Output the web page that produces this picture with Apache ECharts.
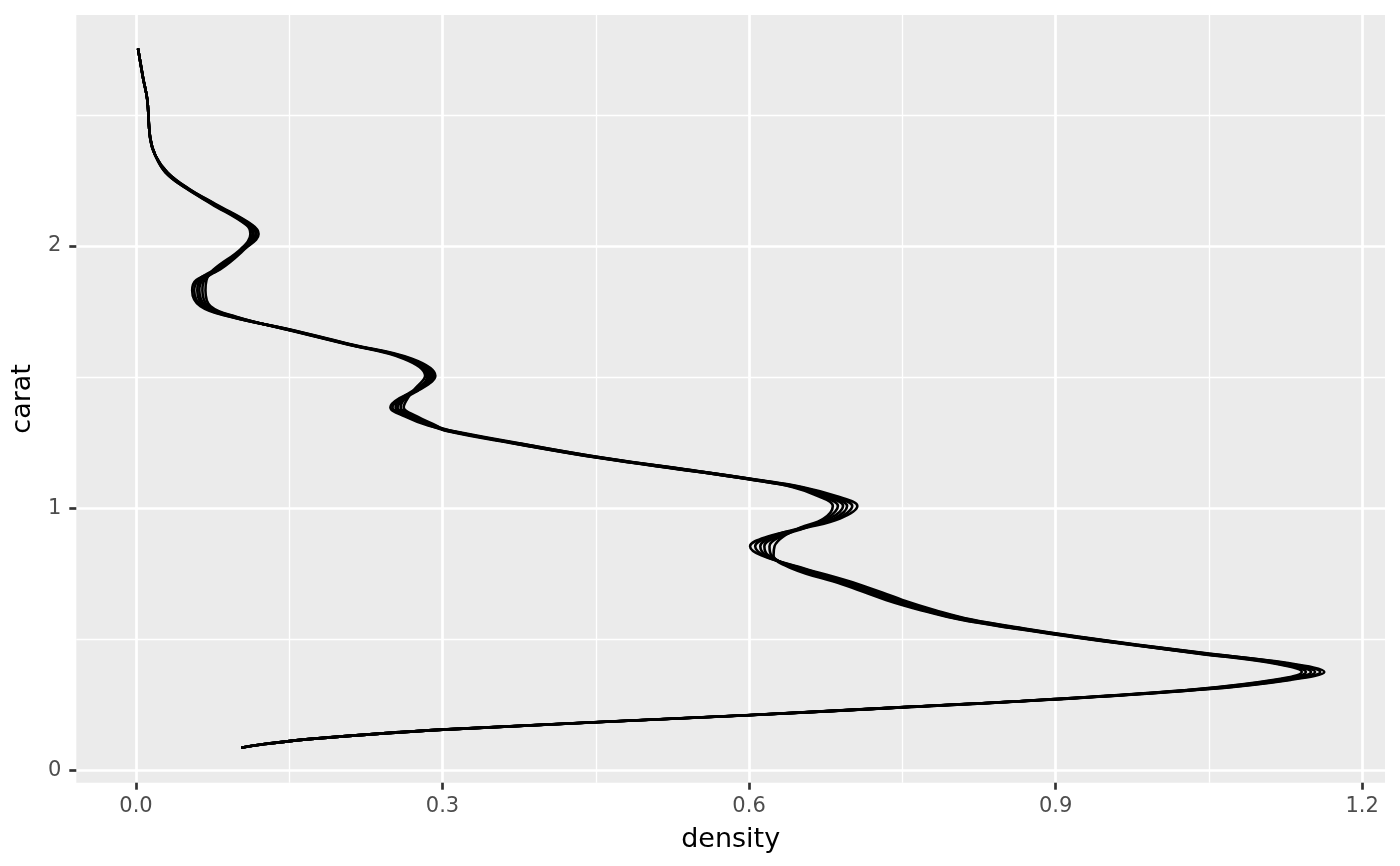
<!DOCTYPE html>
<html>
<head>
<meta charset="utf-8">
<script src="https://cdn.jsdelivr.net/npm/echarts@6/dist/echarts.min.js"></script>
<style>
    html, body { margin: 0; padding: 0; background: #ffffff; }
    #chart { width: 1400px; height: 866px; }
</style>
</head>
<body>
<div id="chart"></div>
<script>
// carat grid shared by all the density curves
var carat = [0.086, 0.10, 0.12, 0.155, 0.21, 0.24, 0.27, 0.31, 0.345, 0.375,
    0.41, 0.445, 0.48, 0.51, 0.54, 0.575, 0.61, 0.65, 0.71, 0.77,
    0.82, 0.855, 0.89, 0.925, 0.96, 1.008, 1.045, 1.08, 1.11, 1.14,
    1.19, 1.245, 1.295, 1.315, 1.35, 1.385, 1.42, 1.455, 1.505, 1.57,
    1.625, 1.68, 1.73, 1.77, 1.83, 1.87, 1.91, 1.99, 2.046, 2.08,
    2.16, 2.22, 2.28, 2.345, 2.41, 2.56, 2.64, 2.753];

// density values, one array per curve
var density1 = [0.103, 0.126, 0.172, 0.301, 0.600, 0.750, 0.898, 1.051, 1.130, 1.163,
    1.126, 1.050, 0.979, 0.922, 0.871, 0.818, 0.783, 0.750, 0.707, 0.654,
    0.612, 0.601, 0.617, 0.656, 0.689, 0.706, 0.686, 0.653, 0.605, 0.553,
    0.461, 0.378, 0.309, 0.286, 0.263, 0.249, 0.258, 0.279, 0.293, 0.270,
    0.210, 0.152, 0.092, 0.063, 0.055, 0.059, 0.082, 0.107, 0.120, 0.114,
    0.078, 0.051, 0.031, 0.019, 0.014, 0.011, 0.007, 0.002];
var density2 = [0.103, 0.126, 0.172, 0.301, 0.599, 0.749, 0.897, 1.049, 1.127, 1.159,
    1.123, 1.048, 0.977, 0.920, 0.869, 0.816, 0.780, 0.747, 0.704, 0.652,
    0.614, 0.606, 0.620, 0.651, 0.686, 0.701, 0.682, 0.651, 0.604, 0.552,
    0.460, 0.377, 0.304, 0.288, 0.265, 0.251, 0.260, 0.274, 0.291, 0.268,
    0.209, 0.151, 0.093, 0.065, 0.057, 0.061, 0.077, 0.106, 0.118, 0.113,
    0.077, 0.051, 0.031, 0.019, 0.014, 0.011, 0.007, 0.002];
var density3 = [0.103, 0.126, 0.172, 0.300, 0.598, 0.748, 0.896, 1.046, 1.124, 1.154,
    1.120, 1.046, 0.976, 0.919, 0.867, 0.813, 0.777, 0.744, 0.701, 0.649,
    0.617, 0.611, 0.623, 0.654, 0.683, 0.696, 0.679, 0.649, 0.603, 0.551,
    0.459, 0.376, 0.307, 0.289, 0.268, 0.254, 0.261, 0.277, 0.289, 0.267,
    0.208, 0.150, 0.094, 0.067, 0.060, 0.063, 0.080, 0.105, 0.117, 0.112,
    0.076, 0.050, 0.030, 0.019, 0.014, 0.011, 0.007, 0.002];
var density4 = [0.103, 0.126, 0.172, 0.300, 0.598, 0.748, 0.894, 1.044, 1.120, 1.150,
    1.116, 1.044, 0.974, 0.917, 0.865, 0.811, 0.775, 0.740, 0.697, 0.647,
    0.619, 0.615, 0.627, 0.652, 0.679, 0.692, 0.675, 0.647, 0.601, 0.549,
    0.457, 0.374, 0.305, 0.291, 0.270, 0.256, 0.263, 0.275, 0.287, 0.265,
    0.208, 0.150, 0.096, 0.069, 0.062, 0.065, 0.078, 0.105, 0.115, 0.110,
    0.076, 0.050, 0.030, 0.019, 0.014, 0.011, 0.007, 0.002];
var density5 = [0.103, 0.126, 0.172, 0.299, 0.597, 0.747, 0.893, 1.041, 1.117, 1.145,
    1.113, 1.042, 0.973, 0.916, 0.863, 0.808, 0.772, 0.737, 0.694, 0.644,
    0.622, 0.620, 0.630, 0.655, 0.676, 0.687, 0.672, 0.645, 0.600, 0.548,
    0.456, 0.373, 0.308, 0.292, 0.273, 0.259, 0.264, 0.278, 0.285, 0.264,
    0.207, 0.149, 0.097, 0.071, 0.065, 0.067, 0.081, 0.104, 0.114, 0.109,
    0.075, 0.049, 0.029, 0.019, 0.014, 0.011, 0.007, 0.002];
var density6 = [0.103, 0.126, 0.172, 0.299, 0.596, 0.746, 0.892, 1.039, 1.114, 1.141,
    1.110, 1.040, 0.971, 0.914, 0.861, 0.806, 0.769, 0.734, 0.691, 0.642,
    0.624, 0.625, 0.633, 0.650, 0.673, 0.682, 0.668, 0.643, 0.599, 0.547,
    0.455, 0.372, 0.303, 0.294, 0.275, 0.262, 0.266, 0.273, 0.283, 0.262,
    0.206, 0.148, 0.098, 0.073, 0.068, 0.069, 0.076, 0.103, 0.112, 0.108,
    0.074, 0.049, 0.029, 0.019, 0.014, 0.011, 0.007, 0.002];

var xTicks = [0, 0.3, 0.6, 0.9, 1.2];
var xMinorTicks = [0.15, 0.45, 0.75, 1.05];
var yTicks = [0, 1, 2];
var yMinorTicks = [0.5, 1.5, 2.5];

var allDensity = [density1, density2, density3, density4, density5, density6];

var chart = echarts.init(document.getElementById('chart'));

// turn a density array into [density, carat] pairs
function toPairs(arr){
    var out = [];
    for (var i = 0; i < arr.length; i++) {
        out.push([arr[i], carat[i]]);
    }
    return out;
}

var seriesList = allDensity.map(function(arr){
    return {
        type: 'line',
        xAxisIndex: 0,
        yAxisIndex: 0,
        data: toPairs(arr),
        showSymbol: false,
        smooth: 0.4,
        silent: true,
        lineStyle: { color: '#000000', width: 2.6 }
    };
});

var axisFont = 'DejaVu Sans';

chart.setOption({
    animation: false,
    grid: {
        left: 76.3,
        right: 15,
        top: 15,
        bottom: 83.3,
        containLabel: false,
        outerBoundsMode: 'none',
        show: true,
        backgroundColor: '#EBEBEB',
        borderWidth: 0
    },
    xAxis: [{
        type: 'value',
        position: 'bottom',
        min: -0.0584,
        max: 1.2224,
        name: 'density',
        nameLocation: 'middle',
        nameGap: 44,
        nameTextStyle: { fontFamily: axisFont, fontSize: 27, color: '#000000' },
        axisLine: { show: false, onZero: false },
        axisTick: {
            show: true,
            length: 7,
            customValues: xTicks,
            lineStyle: { color: '#333333', width: 2.7 }
        },
        axisLabel: {
            customValues: xTicks,
            margin: 13,
            fontFamily: axisFont,
            fontSize: 21,
            color: '#4D4D4D',
            formatter: function(v){ return v.toFixed(1); }
        },
        splitLine: { show: true, lineStyle: { color: '#FFFFFF', width: 2.7 } }
    }, {
        type: 'value',
        position: 'top',
        min: -0.0584,
        max: 1.2224,
        axisLine: { show: false, onZero: false },
        axisTick: { show: false, customValues: xMinorTicks },
        axisLabel: { show: false },
        splitLine: { show: true, lineStyle: { color: '#FFFFFF', width: 1.35 } }
    }],
    yAxis: [{
        type: 'value',
        position: 'left',
        min: -0.0473,
        max: 2.881,
        name: 'carat',
        nameLocation: 'middle',
        nameRotate: 90,
        nameGap: 40,
        nameTextStyle: { fontFamily: axisFont, fontSize: 27, color: '#000000' },
        axisLine: { show: false, onZero: false },
        axisTick: {
            show: true,
            length: 7,
            customValues: yTicks,
            lineStyle: { color: '#333333', width: 2.7 }
        },
        axisLabel: {
            customValues: yTicks,
            margin: 15,
            fontFamily: axisFont,
            fontSize: 21,
            color: '#4D4D4D'
        },
        splitLine: { show: true, lineStyle: { color: '#FFFFFF', width: 2.7 } }
    }, {
        type: 'value',
        position: 'right',
        min: -0.0473,
        max: 2.881,
        axisLine: { show: false, onZero: false },
        axisTick: { show: false, customValues: yMinorTicks },
        axisLabel: { show: false },
        splitLine: { show: true, lineStyle: { color: '#FFFFFF', width: 1.35 } }
    }],
    series: seriesList
});
</script>
</body>
</html>
